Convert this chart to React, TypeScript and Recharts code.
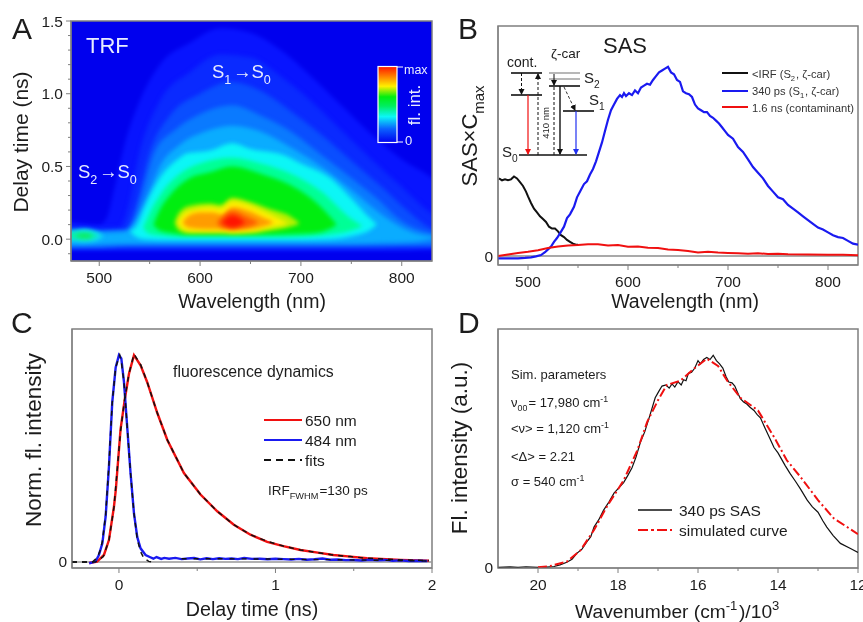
import React from "react"
import {
  ComposedChart,
  LineChart,
  Line,
  Area,
  XAxis,
  YAxis,
  ReferenceArea,
  ReferenceLine,
} from "recharts"

type Pt = { x: number; y: number }

// Panel A: contour bands of the TRF map, [wavelength, low delay, high delay]
const band1 = [[460,-0.08,0.13],[472,-0.08,0.12],[500,-0.08,0.1],[507,-0.08,0.14],[515,-0.08,0.35],[525,-0.08,0.65],[540,-0.08,0.95],[560,-0.08,1.2],[590,-0.08,1.35],[620,-0.08,1.45],[650,-0.08,1.42],[680,-0.08,1.3],[710,-0.08,1.12],[740,-0.08,0.92],[770,-0.08,0.72],[800,-0.08,0.55],[830,-0.08,0.42],[840,-0.08,0.36]]
const band2 = [[460,-0.07,0.09],[472,-0.07,0.09],[500,-0.07,0.08],[520,-0.07,0.08],[528,-0.07,0.2],[540,-0.07,0.6],[560,-0.07,0.95],[590,-0.07,1.15],[620,-0.07,1.27],[650,-0.07,1.25],[680,-0.07,1.12],[710,-0.07,0.95],[740,-0.07,0.75],[770,-0.07,0.55],[800,-0.07,0.36],[825,-0.06,0.2],[840,-0.06,0.13]]
const band3 = [[460,-0.06,0.07],[472,-0.06,0.07],[500,-0.06,0.06],[525,-0.055,0.07],[535,-0.055,0.2],[550,-0.055,0.6],[570,-0.055,0.85],[600,-0.055,1.0],[630,-0.055,1.08],[660,-0.055,1.02],[690,-0.055,0.88],[720,-0.055,0.72],[750,-0.055,0.54],[780,-0.055,0.36],[805,-0.05,0.2],[830,-0.05,0.07],[840,-0.05,0.05]]
const band4 = [[460,-0.05,0.06],[472,-0.05,0.06],[500,-0.05,0.05],[530,-0.04,0.06],[540,-0.04,0.25],[555,-0.04,0.6],[575,-0.04,0.75],[600,-0.04,0.86],[632,-0.04,0.92],[660,-0.04,0.85],[690,-0.04,0.74],[720,-0.04,0.58],[750,-0.04,0.42],[780,-0.04,0.25],[795,-0.04,0.15],[830,-0.04,0.04],[840,-0.04,0.03]]
const band5 = [[460,-0.04,0.05],[472,-0.04,0.05],[500,-0.035,0.045],[525,-0.03,0.05],[538,-0.03,0.15],[548,-0.03,0.3],[560,-0.03,0.5],[580,-0.03,0.65],[605,-0.03,0.74],[632,-0.03,0.78],[660,-0.03,0.74],[690,-0.03,0.63],[720,-0.03,0.5],[750,-0.03,0.34],[780,-0.025,0.17],[810,-0.02,0.05],[835,0.01,0.015]]
const band6 = [[531,0.05,0.055],[537,0.015,0.09],[545,0.0,0.22],[560,-0.005,0.42],[580,-0.005,0.56],[587,-0.005,0.59],[610,-0.005,0.61],[632,-0.005,0.66],[650,-0.005,0.62],[682,-0.005,0.58],[700,-0.005,0.52],[731,0.0,0.41],[750,0.02,0.28],[770,0.07,0.135],[775,0.1,0.105]]
const band7 = [[544,0.075,0.085],[550,0.035,0.18],[560,0.025,0.3],[580,0.015,0.45],[600,0.015,0.52],[632,0.015,0.56],[660,0.015,0.52],[690,0.015,0.45],[720,0.025,0.33],[750,0.06,0.14],[760,0.085,0.095]]
const band8 = [[554,0.095,0.105],[560,0.06,0.2],[570,0.045,0.3],[590,0.03,0.42],[610,0.03,0.46],[632,0.03,0.5],[660,0.03,0.45],[690,0.035,0.37],[720,0.05,0.22],[735,0.095,0.105]]
const band9 = [[575,0.11,0.12],[579,0.06,0.18],[590,0.04,0.23],[610,0.04,0.245],[620,0.04,0.235],[632,0.035,0.285],[650,0.04,0.255],[670,0.06,0.205],[690,0.085,0.155],[698,0.105,0.115]]
const band10 = [[578,0.11,0.12],[583,0.07,0.17],[592,0.055,0.2],[610,0.055,0.22],[620,0.055,0.21],[632,0.05,0.26],[650,0.055,0.23],[665,0.075,0.185],[680,0.095,0.135],[687,0.108,0.112]]
const band11 = [[583,0.11,0.12],[588,0.08,0.16],[600,0.07,0.185],[612,0.068,0.185],[622,0.068,0.17],[632,0.065,0.22],[650,0.07,0.19],[662,0.085,0.15],[672,0.11,0.12]]
const band12 = [[617,0.11,0.12],[622,0.08,0.155],[632,0.07,0.195],[645,0.08,0.16],[657,0.11,0.12]]
const band13 = [[622,0.11,0.12],[632,0.08,0.165],[644,0.11,0.12]]
const s2Band1 = [[460,-0.012,0.055],[472,-0.012,0.055],[485,-0.02,0.072],[497,-0.012,0.052],[504,0.018,0.024]]
const s2Band2 = [[468,0.01,0.035],[476,0.002,0.05],[486,-0.006,0.052],[495,0.008,0.036],[499,0.02,0.024]]
const s2Band3 = [[477,0.02,0.026],[482,0.012,0.036],[488,0.01,0.036],[493,0.02,0.026]]

const heatBands = [band1, band2, band3, band4, band5, band6, band7, band8, band9, band10, band11, band12, band13]
const heatColors = ["#0814ff", "#0a2aff", "#0a4eff", "#0a7aff", "#0aacff", "#0cf6f6", "#00ff96", "#00ee10", "#b8f000", "#ffef00", "#ff9c00", "#ff5a00", "#ff1400"]
const s2Bands = [s2Band1, s2Band2, s2Band3]
const s2Colors = ["#12dcf0", "#08f0a8", "#10ea50"]

// Panel B: species associated spectra, [wavelength, value]
const sasIrf = [[471,41],[474,40],[477,40.5],[480,40],[483,40.5],[486,42],[489,41],[492,39],[495,37],[498,34],[500,31.5],[503,28],[506,25],[509,23],[512,21],[515,19.5],[518,18],[521,15.5],[524,14.5],[527,14.5],[530,13],[533,11],[536,10],[539,8.5],[542,7.5],[545,6.5],[548,6],[550,6]]
const sasS1 = [[470,-1.2],[480,-1.3],[490,-1.2],[497,-1],[503,-0.7],[508,-0.2],[513,0.5],[517,2],[520,3.5],[523,5],[526,7.5],[529,9.5],[532,12],[536,15.5],[539,20],[542,22],[546,26],[549,31],[553,35],[556,38],[559,39.5],[562,43],[565,46],[568,50],[571,55],[574,60],[577,66],[580,72],[583,77],[586,80],[589,83],[592,85],[594,84],[596,86],[598,84.5],[601,86],[604,85],[607,87.5],[610,86],[613,89],[616,90],[619,91],[622,90.5],[625,93],[628,95],[631,97],[634,98],[637,99],[640,100],[643,97],[646,96],[649,93],[652,92],[655,87],[658,86],[661,85.5],[664,84],[667,80],[670,78],[673,77],[676,76],[679,76],[682,74],[685,73],[688,71.5],[691,70],[694,68],[697,66],[700,64],[705,62],[710,57.5],[715,55],[720,51],[725,47],[730,44],[735,41],[740,37],[745,34],[750,31],[755,30],[760,27],[765,25],[770,23],[775,21],[780,19],[785,17],[790,15],[795,14],[800,12.5],[805,11],[810,10],[815,9.5],[820,8],[825,6.5],[830,6]]
const sasCont = [[470,0],[480,0.8],[490,1.6],[500,2.2],[510,3],[520,4.2],[530,5],[540,5.6],[550,5.8],[560,6.2],[570,6.2],[580,5.6],[590,5.8],[600,4.9],[610,5],[620,4.4],[630,4.2],[640,3.4],[650,3.2],[660,2.6],[670,1.8],[680,2.2],[690,1.8],[700,1.6],[710,1.4],[720,1.2],[730,1.5],[740,1],[750,1.2],[760,0.9],[780,0.8],[800,0.6],[815,0.7],[830,0.4]]

// Panel C: normalized decays, [delay, value]
const trace650 = [[-0.19,-0.5],[-0.14,0.2],[-0.096,3.4],[-0.064,10.6],[-0.032,26.7],[-0.02,35],[0.01,64],[0.036,78],[0.064,91],[0.096,100],[0.138,95],[0.18,87],[0.245,72],[0.309,59],[0.415,43],[0.521,32.6],[0.628,24.5],[0.734,18],[0.84,13.2],[0.947,9.7],[1.05,7.7],[1.16,5.8],[1.27,4.5],[1.37,3.4],[1.48,2.6],[1.585,1.8],[1.8,1],[1.98,0.6]]
const trace484 = [[-0.19,-0.6],[-0.15,0.2],[-0.128,3.4],[-0.106,9],[-0.085,22],[-0.064,46],[-0.043,77],[-0.021,94],[0,100],[0.015,98.4],[0.032,87],[0.053,65],[0.074,43],[0.096,23.5],[0.117,12],[0.138,6.6],[0.17,3.4],[0.2,2.3],[0.22,1.6],[0.24,2.4],[0.27,1.5],[0.29,2],[0.32,1.6],[0.36,2],[0.4,1.4],[0.44,1.7],[0.48,1.9],[0.52,1.3],[0.56,1.8],[0.6,1.4],[0.64,1.8],[0.68,1.5],[0.72,1.7],[0.76,1.4],[0.8,1.9],[0.85,1.5],[0.9,1.6],[0.95,1.3],[1,1.6],[1.05,1.4],[1.1,1.2],[1.15,1.5],[1.2,1.1],[1.25,1.3],[1.3,1.7],[1.35,1.1],[1.4,1.2],[1.45,0.9],[1.5,1],[1.55,0.7],[1.6,1.1],[1.65,0.8],[1.7,1],[1.75,0.6],[1.8,0.8],[1.85,0.5],[1.9,0.6],[1.97,0.5]]
const fit650 = [[-0.3,0],[-0.15,0],[-0.1,2.6],[-0.064,10.4],[-0.032,26.5],[0.01,63],[0.036,78.5],[0.064,91],[0.096,100.5],[0.138,95.5],[0.18,87],[0.245,72],[0.309,59],[0.415,43],[0.521,32.6],[0.628,24.5],[0.734,18],[0.84,13.2],[0.947,10],[1.05,7.7],[1.16,5.8],[1.27,4.5],[1.37,3.4],[1.48,2.6],[1.585,1.8],[1.8,1],[1.98,0.7]]
const fit484 = [[-0.3,0],[-0.17,0],[-0.14,2],[-0.12,5.5],[-0.106,10],[-0.085,23],[-0.064,47],[-0.043,77],[-0.021,94],[0.005,100],[0.015,97],[0.032,87],[0.053,65],[0.074,43],[0.096,23.5],[0.117,11],[0.138,5],[0.16,1.8],[0.19,0.3],[0.22,0]]
const fit484Tail = [[0.4,1.6],[0.6,1.6],[0.8,1.5],[1,1.4],[1.2,1.2],[1.4,1.1],[1.6,0.9],[1.8,0.7],[1.97,0.5]]

// Panel D: measured spectrum and simulation, [wavenumber/1000, value]
const spec340 = [[21,0],[20.7,0.2],[20.5,0],[20.3,0.3],[20,0],[19.8,0.1],[19.6,0.4],[19.45,1.2],[19.28,2.4],[19.15,3.8],[19.03,6.6],[18.9,8.6],[18.78,12],[18.68,14.5],[18.6,19],[18.48,22.5],[18.36,27],[18.22,31],[18.1,35],[17.98,37.5],[17.86,40],[17.75,43.5],[17.65,47],[17.55,52],[17.44,59],[17.33,64],[17.23,70],[17.15,75],[17.07,80],[16.98,83],[16.9,85.5],[16.8,86],[16.72,84.5],[16.65,86.5],[16.58,85],[16.5,87.5],[16.42,86],[16.36,88.5],[16.3,88],[16.24,91.5],[16.16,92],[16.08,94],[16,97.5],[15.94,96],[15.86,98],[15.78,99],[15.7,98],[15.62,100],[15.54,97.5],[15.46,96],[15.38,94],[15.3,90],[15.23,87.4],[15.15,87],[15.08,85.5],[15,82],[14.94,79.5],[14.86,78],[14.78,77],[14.7,75.5],[14.6,74],[14.52,72],[14.44,70.5],[14.32,65.5],[14.2,60.7],[14.1,56.5],[14,54],[13.94,52],[13.82,48],[13.7,44.3],[13.56,40.5],[13.44,37],[13.27,31.7],[13.14,28.5],[13,26],[12.88,22],[12.78,19],[12.62,15],[12.44,11.3],[12.2,9],[12,7]]
const simCurve = [[20,0],[19.7,0.6],[19.28,2.7],[18.94,8],[18.6,17.6],[18.28,28.6],[17.86,41],[17.52,55],[17.27,68.6],[17,78.8],[16.78,86],[16.44,88],[16.1,93.7],[15.78,98.4],[15.5,95],[15.27,88],[14.94,80],[14.5,74],[14.1,61.5],[13.78,50.5],[13.44,42.7],[13,31.7],[12.6,23],[12,15.7]]

const wavelengthTicks = [500, 550, 600, 650, 700, 750, 800]
const delayTicks = [-0.1, 0, 0.1, 0.2, 0.3, 0.4, 0.5, 0.6, 0.7, 0.8, 0.9, 1, 1.1, 1.2, 1.3, 1.4, 1.5]
const delayLabels = [0, 0.5, 1, 1.5]
const decayTicks = [0, 0.5, 1, 1.5, 2]
const wavenumberTicks = [20, 19, 18, 17, 16, 15, 14, 13, 12]

const GREY = "#7f7f7f"
const INK = "#1c1c1c"
const FONT = "'Liberation Sans', Arial, sans-serif"

const toPts = (rows: number[][]): Pt[] => rows.map(([x, y]) => ({ x, y }))
const toBand = (rows: number[][]) => rows.map(([x, lo, hi]) => ({ x, range: [lo, hi] }))

// Axis ticks drawn by hand so that labelled and minor ticks get different lengths
const xTick = (labels: number[], big = 5, small = 3) => (props: any) => {
  const v = props.payload.value
  const on = labels.includes(v)
  return (
    <g>
      <line x1={props.x} x2={props.x} y1={props.y} y2={props.y + (on ? big : small)} stroke={GREY} strokeWidth={1} />
      {on && (
        <text x={props.x} y={props.y + 22} textAnchor="middle" fontSize={15.5} fill={INK} fontFamily={FONT}>
          {v}
        </text>
      )}
    </g>
  )
}

const yTick = (labels: number[], fmt: (v: number) => string, small = 3) => (props: any) => {
  const v = props.payload.value
  const on = labels.includes(v)
  return (
    <g>
      <line x1={props.x - (on ? 5 : small)} x2={props.x} y1={props.y} y2={props.y} stroke={GREY} strokeWidth={1} />
      {on && (
        <text x={props.x - 8} y={props.y + 5.5} textAnchor="end" fontSize={15.5} fill={INK} fontFamily={FONT}>
          {fmt(v)}
        </text>
      )}
    </g>
  )
}

const zeroTick = (props: any) => (
  <text x={props.x - 5} y={props.y + 5.5} textAnchor="end" fontSize={15.5} fill={INK} fontFamily={FONT}>
    0
  </text>
)

function Frame({ x, y }: { x: number[]; y: number[] }) {
  return <ReferenceArea x1={x[0]} x2={x[1]} y1={y[0]} y2={y[1]} fill="none" stroke={GREY} strokeWidth={1.5} ifOverflow="visible" />
}

function Txt({ x, y, s, c = INK, rot, children, anchor }: any) {
  return (
    <text
      x={x}
      y={y}
      fontSize={s}
      fill={c}
      fontFamily={FONT}
      textAnchor={anchor}
      transform={rot ? `rotate(${rot} ${x} ${y})` : undefined}
    >
      {children}
    </text>
  )
}

const Sub = ({ children, s, up }: any) => (
  <>
    <tspan dy={up ? -s * 0.4 : s * 0.3} fontSize={s * 0.68}>{children}</tspan>
    <tspan dy={up ? s * 0.4 : -s * 0.3}>{"\u200a"}</tspan>
  </>
)

function Overlay() {
  const lvl = (x1: number, x2: number, y: number, c = "#111", w = 1.6) => (
    <line x1={x1} x2={x2} y1={y} y2={y} stroke={c} strokeWidth={w} />
  )
  return (
    <svg width={863} height={622} style={{ position: "absolute", left: 0, top: 0, pointerEvents: "none" }}>
      <defs>
        <linearGradient id="bar" x1="0" y1="0" x2="0" y2="1">
          <stop offset="0" stopColor="#ff1400" />
          <stop offset="0.12" stopColor="#ff7800" />
          <stop offset="0.26" stopColor="#ffef00" />
          <stop offset="0.4" stopColor="#00ee10" />
          <stop offset="0.52" stopColor="#00ee60" />
          <stop offset="0.66" stopColor="#0cf6f6" />
          <stop offset="0.82" stopColor="#0a62ff" />
          <stop offset="1" stopColor="#0000f0" />
        </linearGradient>
        {[["k", "#111"], ["r", "#f01010"], ["b", "#2030f0"]].map(([id, c]) => (
          <marker key={id} id={`arrow-${id}`} markerWidth="7" markerHeight="7" refX="5" refY="3" orient="auto" markerUnits="userSpaceOnUse">
            <path d="M0,0 L6,3 L0,6 Z" fill={c} />
          </marker>
        ))}
      </defs>

      {/* panel letters */}
      <Txt x={12} y={39} s={30}>A</Txt>
      <Txt x={458} y={39} s={30}>B</Txt>
      <Txt x={11} y={333} s={30}>C</Txt>
      <Txt x={458} y={333} s={30}>D</Txt>

      {/* axis titles */}
      <Txt x={252} y={308} s={19.5} anchor="middle">Wavelength (nm)</Txt>
      <Txt x={28} y={142} s={21} anchor="middle" rot={-90}>Delay time (ns)</Txt>
      <Txt x={685} y={308} s={19.5} anchor="middle">Wavelength (nm)</Txt>
      <Txt x={477} y={135} s={22} anchor="middle" rot={-90}>SAS×C<Sub s={22}>max</Sub></Txt>
      <Txt x={252} y={616} s={19.7} anchor="middle">Delay time (ns)</Txt>
      <Txt x={41} y={440} s={22.5} anchor="middle" rot={-90}>Norm. fl. intensity</Txt>
      <Txt x={678} y={618} s={19.2} anchor="middle">Wavenumber (cm<Sub s={19.2} up>-1</Sub>)/10<Sub s={19.2} up>3</Sub></Txt>
      <Txt x={467} y={448} s={22.5} anchor="middle" rot={-90}>Fl. intensity (a.u.)</Txt>

      {/* panel A notes */}
      <Txt x={86} y={53} s={22} c="#e8ecff">TRF</Txt>
      <Txt x={212} y={78} s={18.5} c="#e8ecff">S<Sub s={18.5}>1</Sub>→S<Sub s={18.5}>0</Sub></Txt>
      <Txt x={78} y={178} s={18.5} c="#e8ecff">S<Sub s={18.5}>2</Sub>→S<Sub s={18.5}>0</Sub></Txt>
      <rect x={378} y={66.5} width={19} height={76} fill="url(#bar)" stroke="#fff" strokeWidth={1.2} />
      <line x1={397} x2={403} y1={67} y2={67} stroke="#fff" />
      <line x1={397} x2={403} y1={142} y2={142} stroke="#fff" />
      <Txt x={404} y={74} s={12.5} c="#e8ecff">max</Txt>
      <Txt x={405} y={145} s={13} c="#e8ecff">0</Txt>
      <Txt x={420} y={105} s={17} c="#e8ecff" anchor="middle" rot={-90}>fl. int.</Txt>

      {/* panel B energy scheme */}
      <Txt x={603} y={53} s={22}>SAS</Txt>
      {lvl(511, 542, 73)}
      {lvl(511, 542, 95)}
      {lvl(549, 580, 73, "#888", 1.2)}
      {lvl(549, 580, 79, "#888", 1.2)}
      {lvl(549, 580, 86)}
      {lvl(563, 594, 111)}
      {lvl(519, 587, 155)}
      <line x1={521.5} x2={521.5} y1={73} y2={94} stroke="#111" strokeWidth={1} strokeDasharray="3 2" markerEnd="url(#arrow-k)" />
      <line x1={528} x2={528} y1={95} y2={154} stroke="#f01010" strokeWidth={1.2} markerEnd="url(#arrow-r)" />
      <line x1={538} x2={538} y1={155} y2={74} stroke="#111" strokeWidth={1} strokeDasharray="3 2" markerEnd="url(#arrow-k)" />
      <line x1={554} x2={554} y1={155} y2={87} stroke="#111" strokeWidth={1} strokeDasharray="3 2" />
      <line x1={554} x2={554} y1={74} y2={85} stroke="#111" strokeWidth={1} markerEnd="url(#arrow-k)" />
      <line x1={560} x2={560} y1={86} y2={154} stroke="#111" strokeWidth={1.4} markerEnd="url(#arrow-k)" />
      <line x1={564} x2={575} y1={87} y2={110} stroke="#333" strokeWidth={1} strokeDasharray="3 2" markerEnd="url(#arrow-k)" />
      <line x1={576} x2={576} y1={111} y2={154} stroke="#2030f0" strokeWidth={1.2} markerEnd="url(#arrow-b)" />
      <Txt x={507} y={67} s={14}>cont.</Txt>
      <Txt x={551} y={58} s={13.5}>ζ-car</Txt>
      <Txt x={584} y={83} s={15}>S<Sub s={15}>2</Sub></Txt>
      <Txt x={589} y={105} s={15}>S<Sub s={15}>1</Sub></Txt>
      <Txt x={502} y={157} s={15}>S<Sub s={15}>0</Sub></Txt>
      <Txt x={549} y={123} s={9.5} anchor="middle" rot={-90}>410 nm</Txt>

      {/* panel B legend */}
      <line x1={722} x2={748} y1={73} y2={73} stroke="#111" strokeWidth={2} />
      <line x1={722} x2={748} y1={91} y2={91} stroke="#1a1af0" strokeWidth={2} />
      <line x1={722} x2={748} y1={107} y2={107} stroke="#f01010" strokeWidth={2} />
      <Txt x={752} y={78} s={11.2} c="#333">&lt;IRF (S<Sub s={11.2}>2</Sub>, ζ-car)</Txt>
      <Txt x={752} y={95} s={11.2} c="#333">340 ps (S<Sub s={11.2}>1</Sub>, ζ-car)</Txt>
      <Txt x={752} y={112} s={11.2} c="#333">1.6 ns (contaminant)</Txt>

      {/* panel C notes */}
      <Txt x={173} y={377} s={15.8}>fluorescence dynamics</Txt>
      <line x1={264} x2={302} y1={420} y2={420} stroke="#f01010" strokeWidth={2} />
      <line x1={264} x2={302} y1={440} y2={440} stroke="#1a1af0" strokeWidth={2} />
      <line x1={264} x2={302} y1={460} y2={460} stroke="#111" strokeWidth={2} strokeDasharray="7 5" />
      <Txt x={305} y={426} s={15.5}>650 nm</Txt>
      <Txt x={305} y={446} s={15.5}>484 nm</Txt>
      <Txt x={305} y={466} s={15.5}>fits</Txt>
      <Txt x={268} y={495} s={13.5}>IRF<Sub s={13.5}>FWHM</Sub>=130 ps</Txt>

      {/* panel D notes */}
      <Txt x={511} y={379} s={13}>Sim. parameters</Txt>
      <Txt x={511} y={407} s={13}>ν<Sub s={13}>00</Sub>= 17,980 cm<Sub s={13} up>-1</Sub></Txt>
      <Txt x={511} y={433} s={13}>&lt;ν&gt; = 1,120 cm<Sub s={13} up>-1</Sub></Txt>
      <Txt x={511} y={461} s={13}>&lt;Δ&gt; = 2.21</Txt>
      <Txt x={511} y={486} s={13}>σ = 540 cm<Sub s={13} up>-1</Sub></Txt>
      <line x1={638} x2={672} y1={510} y2={510} stroke="#111" strokeWidth={1.3} />
      <line x1={638} x2={672} y1={530} y2={530} stroke="#f01010" strokeWidth={2} strokeDasharray="10 3 3 3" />
      <Txt x={679} y={516} s={15.5}>340 ps SAS</Txt>
      <Txt x={679} y={536} s={15.5}>simulated curve</Txt>
    </svg>
  )
}

function PanelA() {
  return (
    <ComposedChart width={440} height={322} margin={{ top: 21, right: 8, bottom: 31, left: 31 }}>
      <XAxis
        type="number"
        dataKey="x"
        domain={[472, 830]}
        allowDataOverflow
        ticks={wavelengthTicks}
        interval={0}
        tickSize={0}
        tickMargin={0}
        tickLine={false}
        tick={xTick([500, 600, 700, 800])}
        height={30}
        stroke={GREY}
      />
      <YAxis
        type="number"
        domain={[-0.15, 1.5]}
        allowDataOverflow
        ticks={delayTicks}
        interval={0}
        tickSize={0}
        tickMargin={0}
        tickLine={false}
        tick={yTick(delayLabels, (v) => v.toFixed(1))}
        width={40}
        stroke={GREY}
      />
      <ReferenceArea x1={472} x2={830} y1={-0.15} y2={1.5} fill="#0000ee" fillOpacity={1} stroke="none" />
      {heatBands.map((band, i) => (
        <Area
          key={i}
          data={toBand(band)}
          dataKey="range"
          type="monotone"
          fill={heatColors[i]}
          fillOpacity={1}
          stroke="none"
          dot={false}
          activeDot={false}
          isAnimationActive={false}
        />
      ))}
      {s2Bands.map((band, i) => (
        <Area
          key={`s2-${i}`}
          data={toBand(band)}
          dataKey="range"
          type="monotone"
          fill={s2Colors[i]}
          fillOpacity={1}
          stroke="none"
          dot={false}
          activeDot={false}
          isAnimationActive={false}
        />
      ))}
      <Frame x={[472, 830]} y={[-0.15, 1.5]} />
    </ComposedChart>
  )
}

function PanelB() {
  return (
    <LineChart width={423} height={322} margin={{ top: 26, right: 5, bottom: 27, left: 28 }}>
      <XAxis
        type="number"
        dataKey="x"
        domain={[470, 830]}
        allowDataOverflow
        ticks={wavelengthTicks}
        interval={0}
        tickSize={0}
        tickMargin={0}
        tickLine={false}
        tick={xTick([500, 600, 700, 800])}
        height={30}
        stroke={GREY}
      />
      <YAxis
        type="number"
        domain={[-4.75, 121.5]}
        allowDataOverflow
        ticks={[0]}
        interval={0}
        tickSize={0}
        tickMargin={0}
        tickLine={false}
        tick={zeroTick}
        width={30}
        stroke={GREY}
      />
      <Frame x={[470, 830]} y={[-4.75, 121.5]} />
      <ReferenceLine y={0} stroke="#555" strokeWidth={1.2} />
      <Line data={toPts(sasIrf)} dataKey="y" stroke="#111" strokeWidth={2} dot={false} isAnimationActive={false} />
      <Line data={toPts(sasS1)} dataKey="y" stroke="#1a1af0" strokeWidth={2.2} dot={false} isAnimationActive={false} />
      <Line data={toPts(sasCont)} dataKey="y" stroke="#f01010" strokeWidth={2} dot={false} isAnimationActive={false} />
    </LineChart>
  )
}

function PanelC() {
  return (
    <LineChart width={440} height={312} margin={{ top: 19, right: 8, bottom: 34, left: 42 }}>
      <XAxis
        type="number"
        dataKey="x"
        domain={[-0.3, 2]}
        allowDataOverflow
        ticks={decayTicks}
        interval={0}
        tickSize={0}
        tickMargin={0}
        tickLine={false}
        tick={xTick([0, 1, 2])}
        height={20}
        stroke={GREY}
      />
      <YAxis
        type="number"
        domain={[-2.9, 112.6]}
        allowDataOverflow
        ticks={[0]}
        interval={0}
        tickSize={0}
        tickMargin={0}
        tickLine={false}
        tick={zeroTick}
        width={30}
        stroke={GREY}
      />
      <Frame x={[-0.3, 2]} y={[-2.9, 112.6]} />
      <ReferenceLine y={0} stroke="#999" strokeWidth={1.5} />
      <Line data={toPts(trace650)} dataKey="y" stroke="#f01010" strokeWidth={2.4} dot={false} isAnimationActive={false} />
      <Line data={toPts(trace484)} dataKey="y" stroke="#1a1af0" strokeWidth={2.4} dot={false} isAnimationActive={false} />
      <Line data={toPts(fit650)} dataKey="y" stroke="#111" strokeWidth={1.5} strokeDasharray="5 5" dot={false} isAnimationActive={false} />
      <Line data={toPts(fit484)} dataKey="y" stroke="#111" strokeWidth={1.5} strokeDasharray="5 5" dot={false} isAnimationActive={false} />
      <Line data={toPts(fit484Tail)} dataKey="y" stroke="#111" strokeWidth={1.4} strokeDasharray="5 7" dot={false} isAnimationActive={false} />
    </LineChart>
  )
}

function PanelD() {
  return (
    <LineChart width={423} height={312} margin={{ top: 19, right: 5, bottom: 34, left: 28 }}>
      <XAxis
        type="number"
        dataKey="x"
        domain={[12, 21]}
        reversed
        allowDataOverflow
        ticks={wavenumberTicks}
        interval={0}
        tickSize={0}
        tickMargin={0}
        tickLine={false}
        tick={xTick([20, 18, 16, 14, 12])}
        height={20}
        stroke={GREY}
      />
      <YAxis
        type="number"
        domain={[-0.3, 112.4]}
        allowDataOverflow
        ticks={[0]}
        interval={0}
        tickSize={0}
        tickMargin={0}
        tickLine={false}
        tick={zeroTick}
        width={30}
        stroke={GREY}
      />
      <Frame x={[12, 21]} y={[-0.3, 112.4]} />
      <Line data={toPts(spec340)} dataKey="y" stroke="#111" strokeWidth={1.2} dot={false} isAnimationActive={false} />
      <Line data={toPts(simCurve)} dataKey="y" stroke="#f01010" strokeWidth={2} strokeDasharray="9 3 2 3" dot={false} isAnimationActive={false} />
    </LineChart>
  )
}

export default function App() {
  return (
    <div style={{ position: "absolute", left: 0, top: 0, width: 863, height: 622, background: "#fff", overflow: "hidden", fontFamily: FONT, filter: "blur(0.35px)" }}>
      <style>{`.heat .recharts-area-area { filter: blur(2.2px); }`}</style>
      <div className="heat" style={{ position: "absolute", left: 0, top: 0 }}><PanelA /></div>
      <div style={{ position: "absolute", left: 440, top: 0 }}><PanelB /></div>
      <div style={{ position: "absolute", left: 0, top: 310 }}><PanelC /></div>
      <div style={{ position: "absolute", left: 440, top: 310 }}><PanelD /></div>
      <Overlay />
    </div>
  )
}
